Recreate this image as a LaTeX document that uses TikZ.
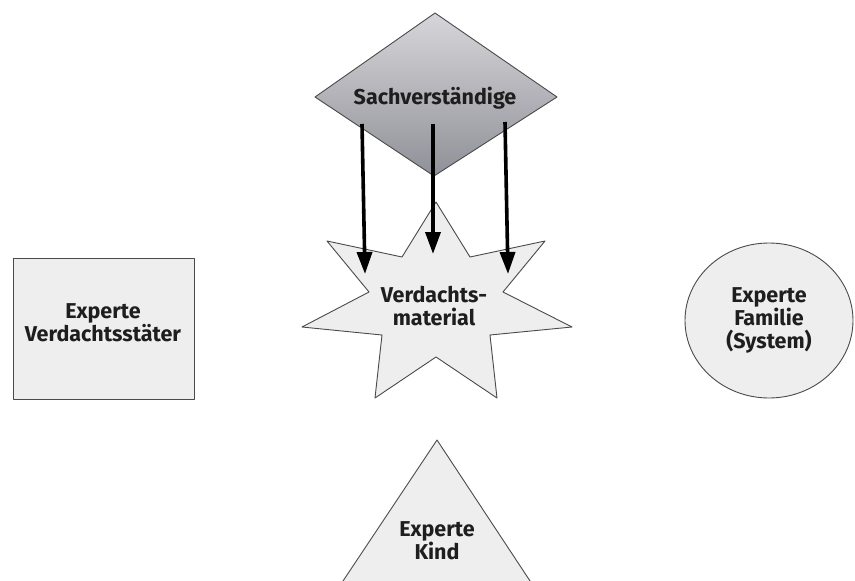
\documentclass[tikz,border=0pt]{standalone}
\usepackage{fontspec}
\setmainfont{Fira Sans}
\usetikzlibrary{arrows.meta}
\definecolor{shapefill}{HTML}{EEEEEE}
\definecolor{edgegray}{HTML}{4A4A4A}
\definecolor{txt}{HTML}{1E1E1E}
\definecolor{dtop}{HTML}{D6D6DA}
\definecolor{dbot}{HTML}{909098}
\begin{document}
\begin{tikzpicture}[x=1pt,y=-1pt,
  shapeline/.style={draw=edgegray,line width=0.9pt,line join=round},
  lbl/.style={font=\fontsize{21.5}{23}\selectfont\bfseries,text=txt,align=center,inner sep=0pt},
  flow/.style={line width=3.6pt,black,-{Triangle[length=22pt,width=15pt]},shorten >=0pt}]
\useasboundingbox[fill=white] (0,0) rectangle (855,581);
% diamond
\path[shapeline,top color=dtop,bottom color=dbot]
  (435,13) coordinate (dT) -- (557,97) coordinate (dR) -- (434,176) coordinate (dB) -- (315,97) coordinate (dL) -- cycle;
\node[lbl] (sach) at (435,98) {Sachverständige};
% star
\path[shapeline,fill=shapefill]
  (436,202) -- (470,257) -- (545,241) -- (503,292) -- (572,327) -- (490,335) -- (497,398)
  -- (436,357) -- (375,398) -- (382,335) -- (302,327) -- (369,292) -- (327,241) -- (402,257) -- cycle;
\node[lbl] (verd) at (434,306) {Verdachts-\\material};
% rectangle
\node[shapeline,fill=shapefill,minimum width=181pt,minimum height=141pt,inner sep=0pt] (rect) at (103.5,328.5) {};
\node[lbl] (taeter) at (103,323) {Experte\\Verdachtsstäter};
% ellipse
\path[shapeline,fill=shapefill] (769,320.5) ellipse [x radius=84,y radius=77.5];
\node[lbl] (fam) at (769,320) {Experte\\Familie\\(System)};
% triangle
\begin{scope}
\clip (0,0) rectangle (855,581);
\path[shapeline,fill=shapefill] (437,440) coordinate (tT) -- (536,590) -- (337,590) -- cycle;
\end{scope}
\node[lbl] (kind) at (437,541) {Experte\\Kind};
% arrow coordinates
\coordinate (a1s) at (362,124);
\coordinate (a1e) at (365,274);
\coordinate (a2s) at (433,124);
\coordinate (a2e) at (433,254);
\coordinate (a3s) at (505,122);
\coordinate (a3e) at (508,274);
\draw[flow] (a1s) -- (a1e);
\draw[flow] (a2s) -- (a2e);
\draw[flow] (a3s) -- (a3e);
\end{tikzpicture}
\end{document}
